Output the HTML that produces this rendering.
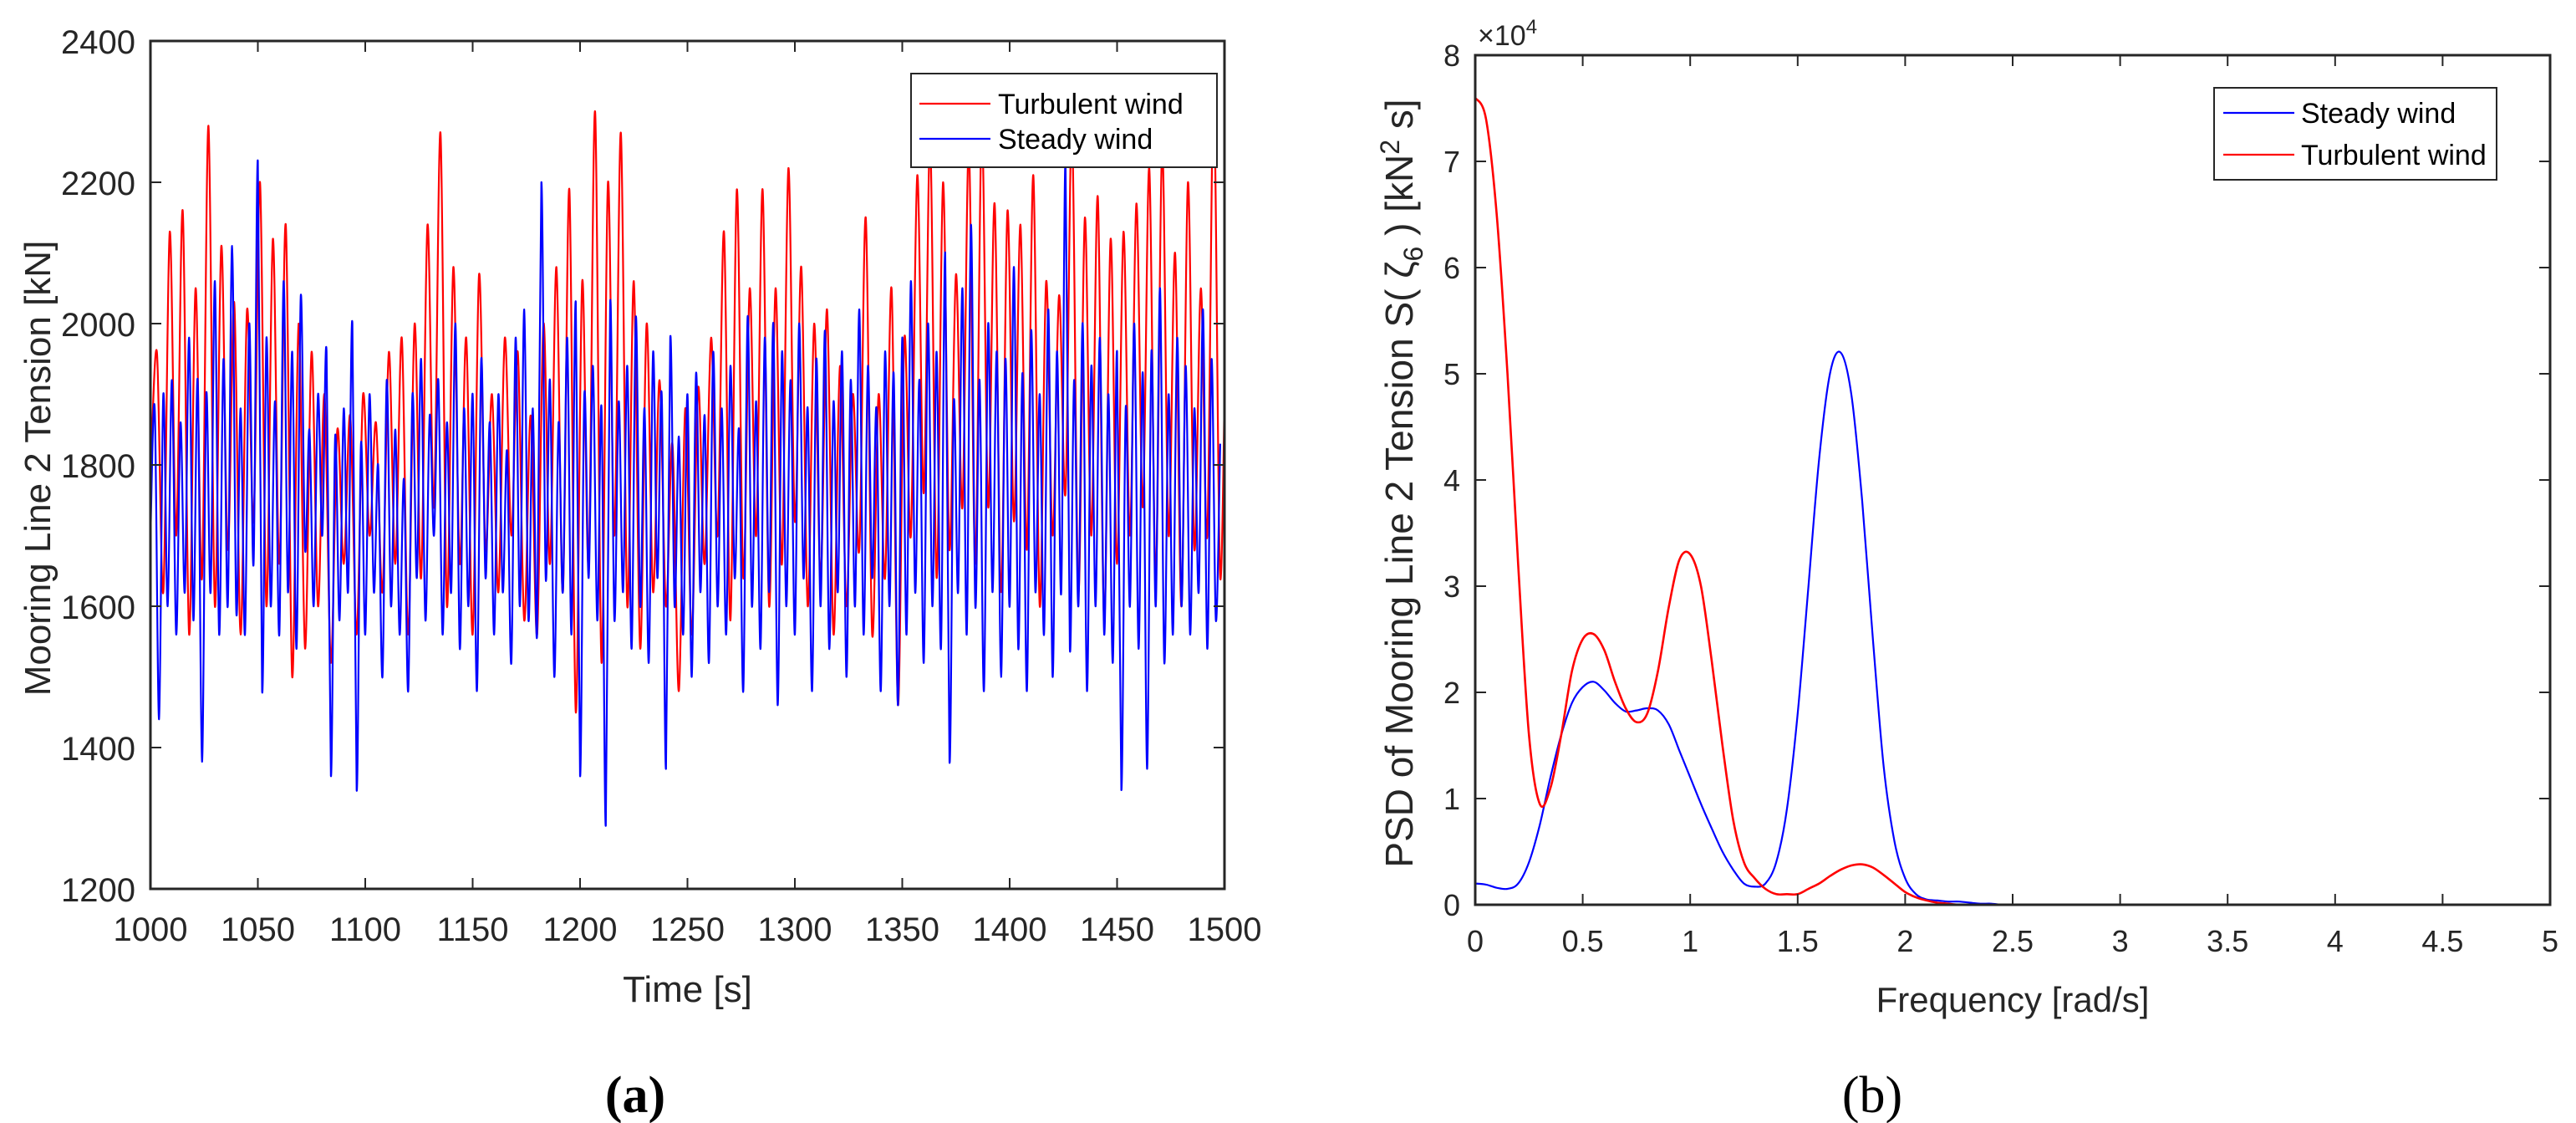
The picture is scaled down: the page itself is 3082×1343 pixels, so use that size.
<!DOCTYPE html>
<html><head><meta charset="utf-8"><style>
html,body{margin:0;padding:0;background:#fff;}
svg{display:block;font-family:"Liberation Sans",Arial,sans-serif;}
</style></head><body>
<svg id="fig" width="3082" height="1343" viewBox="0 0 3082 1343" xmlns="http://www.w3.org/2000/svg">
<rect width="3082" height="1343" fill="#fff"/>
<defs>
<clipPath id="clipA"><rect x="180" y="49" width="1285" height="1014"/></clipPath>
<clipPath id="clipB"><rect x="1765" y="66" width="1286" height="1016"/></clipPath>
</defs>
<g id="plotA"></g>
<g id="plotB"></g>
<text x="760" y="1330" text-anchor="middle" font-family="Liberation Serif,serif" font-size="62" font-weight="bold" fill="#000">(a)</text>
<text x="2240" y="1330" text-anchor="middle" font-family="Liberation Serif,serif" font-size="62" fill="#000">(b)</text>
</svg>
<script>
// ---- Panel (a) data ----
const tStart = 1000;
const steadyStep = 2;
const steadyTension = [
1700,1880,1440,1900,1600,1920,1560,1860,1620,1980,
1580,1920,1380,1900,1620,2060,1560,1950,1600,2110,
1590,1880,1560,2000,1660,2230,1480,1980,1600,1890,
1560,2060,1620,1960,1540,2040,1680,1850,1600,1900,
1700,1960,1360,1840,1580,1880,1620,2000,1340,1830,
1560,1900,1620,1800,1500,1920,1600,1850,1560,1780,
1480,1900,1640,1950,1580,1870,1700,1920,1560,1860,
1620,2000,1540,1880,1600,1900,1480,1950,1640,1860,
1560,1900,1620,1820,1520,1980,1600,2020,1580,1880,
1560,2200,1640,1920,1500,1860,1620,1980,1560,2030,
1360,1900,1640,1940,1580,1880,1290,2030,1580,1890,
1620,1940,1540,2010,1600,1880,1520,1960,1640,1900,
1370,1980,1600,1840,1560,1900,1500,1930,1620,1870,
1520,1960,1600,1880,1560,1940,1640,1850,1480,2010,
1600,1890,1540,1980,1620,2000,1460,1960,1600,1920,
1560,2000,1640,1880,1480,1950,1600,1990,1540,1890,
1620,1960,1500,1920,1600,2020,1560,1940,1640,1880,
1480,1960,1600,1930,1460,1980,1560,2060,1620,1920,
1520,2000,1600,1960,1540,2100,1380,1890,1620,2050,
1560,2140,1600,1920,1480,2000,1620,1960,1500,1950,
1600,2080,1540,1930,1480,1990,1620,1900,1560,2020,
1500,1960,1620,2230,1540,1920,1600,2000,1480,1940,
1600,1980,1560,1900,1520,1960,1340,1880,1600,2000,
1540,1930,1370,1960,1600,2050,1520,1900,1560,1980,
1600,1940,1560,1880,1620,2020,1540,1950,1580,1830];
const turbStep = 3;
const turbTension = [
1780,1960,1620,2130,1700,2160,1560,2050,1640,2280,1600,2110,1680,2030,1560,2020,
1720,2200,1600,2120,1660,2140,1500,2000,1540,1960,1600,1900,1520,1850,1660,1870,
1560,1900,1700,1860,1620,1960,1660,1980,1560,2000,1640,2140,1740,2270,1600,2080,
1660,1980,1560,2070,1680,1900,1620,1980,1700,1960,1580,1870,1560,2000,1660,2080,
1620,2190,1450,2060,1660,2300,1520,2200,1700,2270,1600,2060,1540,2000,1620,1920,
1600,1830,1480,1880,1560,1910,1660,1980,1700,2130,1580,2190,1640,2050,1700,2190,
1600,2050,1660,2220,1720,2080,1600,2000,1640,2020,1560,1940,1600,1900,1680,2150,
1560,1900,1640,2050,1460,1980,1700,2210,1760,2260,1640,2200,1680,2070,1740,2250,
1660,2280,1740,2170,1620,2160,1720,2140,1680,2210,1600,2060,1700,2040,1760,2280,
1620,2150,1700,2180,1580,2120,1660,2130,1700,2170,1740,2220,1640,2250,1700,2100,
1600,2200,1680,2050,1700,2330,1640,2110];
const timeTicks = [1000,1050,1100,1150,1200,1250,1300,1350,1400,1450,1500];
const tensionTicks = [1200,1400,1600,1800,2000,2200,2400];

// ---- Panel (b) data ----
const freqStep = 0.05;
const psdTurbulent = [7.6,7.4,6.5,5.0,3.2,1.6,0.95,1.1,1.6,2.2,2.5,2.55,2.4,2.1,1.85,1.72,1.8,2.2,2.8,3.25,3.3,3.0,2.3,1.5,0.8,0.4,0.25,0.15,0.1,0.1,0.1,0.15,0.2,0.27,0.33,0.37,0.38,0.35,0.28,0.2,0.12,0.07,0.04,0.02,0.01,0,0,0,0,0,0,0,0,0,0,0,0,0,0,0,0,0,0,0,0,0,0,0,0,0,0,0,0,0,0,0,0,0,0,0,0,0,0,0,0,0,0,0,0,0,0,0,0,0,0,0,0,0,0,0,0];
const psdSteady = [0.2,0.19,0.16,0.15,0.2,0.4,0.75,1.2,1.6,1.9,2.05,2.1,2.02,1.9,1.82,1.83,1.85,1.83,1.7,1.45,1.2,0.95,0.72,0.5,0.33,0.2,0.17,0.2,0.4,0.9,1.8,3.0,4.2,5.0,5.2,4.8,3.8,2.5,1.3,0.6,0.25,0.1,0.05,0.04,0.03,0.03,0.02,0.01,0.01,0,0,0,0,0,0,0,0,0,0,0,0,0,0,0,0,0,0,0,0,0,0,0,0,0,0,0,0,0,0,0,0,0,0,0,0,0,0,0,0,0,0,0,0,0,0,0,0,0,0,0,0];
const freqTicks = [0,0.5,1,1.5,2,2.5,3,3.5,4,4.5,5];
const freqTickLabels = ["0","0.5","1","1.5","2","2.5","3","3.5","4","4.5","5"];
const psdTicks = [0,1,2,3,4,5,6,7,8];

const NS = "http://www.w3.org/2000/svg";
function mk(tag, attrs, parent){const e=document.createElementNS(NS,tag);for(const k in attrs)e.setAttribute(k,attrs[k]);parent.appendChild(e);return e;}
function smoothPath(pts){
  let d="M"+pts[0][0].toFixed(1)+","+pts[0][1].toFixed(1);
  for(let i=0;i<pts.length-1;i++){
    const p0=pts[i-1]||pts[i],p1=pts[i],p2=pts[i+1],p3=pts[i+2]||p2;
    const c1x=p1[0]+(p2[0]-p0[0])/6,c1y=p1[1]+(p2[1]-p0[1])/6;
    const c2x=p2[0]-(p3[0]-p1[0])/6,c2y=p2[1]-(p3[1]-p1[1])/6;
    d+="C"+c1x.toFixed(1)+","+c1y.toFixed(1)+" "+c2x.toFixed(1)+","+c2y.toFixed(1)+" "+p2[0].toFixed(1)+","+p2[1].toFixed(1);
  }
  return d;
}

// ===== Panel A =====
(function(){
  const g=document.getElementById('plotA');
  const L=180,R=1465,T=49,B=1063;
  const xA=t=>L+(t-1000)/500*(R-L);
  const yA=v=>B-(v-1200)/1200*(B-T);
  const ax='#262626';
  const sg=mk('g',{'clip-path':'url(#clipA)'},g);
  const redPts=turbTension.map((v,i)=>[xA(tStart+i*turbStep),yA(v)]);
  const red=mk('path',{d:smoothPath(redPts),fill:'none',stroke:'#ff0000','stroke-width':2.2},sg);
  
  
  const bluePts=steadyTension.map((v,i)=>[xA(tStart+i*steadyStep),yA(v)]);
  const blue=mk('path',{d:smoothPath(bluePts),fill:'none',stroke:'#0000ff','stroke-width':2.2},sg);
  
  
  const box=mk('rect',{x:L,y:T,width:R-L,height:B-T,fill:'none',stroke:ax,'stroke-width':3},g);
  
  
  timeTicks.forEach(t=>{
    const x=xA(t);
    mk('line',{x1:x,y1:B,x2:x,y2:B-13,stroke:ax,'stroke-width':2},g);
    mk('line',{x1:x,y1:T,x2:x,y2:T+13,stroke:ax,'stroke-width':2},g);
    const tx=mk('text',{x:x,y:B+62,'text-anchor':'middle','font-size':40,fill:ax},g);
    tx.textContent=t;
    
    
  });
  tensionTicks.forEach(v=>{
    const y=yA(v);
    mk('line',{x1:L,y1:y,x2:L+13,y2:y,stroke:ax,'stroke-width':2},g);
    mk('line',{x1:R,y1:y,x2:R-13,y2:y,stroke:ax,'stroke-width':2},g);
    const tx=mk('text',{x:L-18,y:y+15,'text-anchor':'end','font-size':40,fill:ax},g);
    tx.textContent=v;
    
    
  });
  const xt=mk('text',{x:(L+R)/2,y:1198,'text-anchor':'middle','font-size':44,fill:ax},g);
  xt.textContent='Time [s]';
  
  
  const yt=mk('text',{x:0,y:0,'text-anchor':'middle','font-size':44,fill:ax,transform:'translate(60,560) rotate(-90)'},g);
  yt.textContent='Mooring Line 2 Tension [kN]';
  
  
  const lg=mk('g',{},g);
  
  
  mk('rect',{x:1090,y:88,width:366,height:112,fill:'#fff',stroke:ax,'stroke-width':2},lg);
  [['Turbulent wind','#ff0000',124],['Steady wind','#0000ff',166]].forEach(e=>{
    mk('line',{x1:1100,y1:e[2],x2:1185,y2:e[2],stroke:e[1],'stroke-width':2.2},lg);
    const tx=mk('text',{x:1194,y:e[2]+12,'font-size':34,fill:'#000'},lg);
    tx.textContent=e[0];
    
    
  });
})();

// ===== Panel B =====
(function(){
  const g=document.getElementById('plotB');
  const L=1765,R=3051,T=66,B=1082;
  const xB=f=>L+f/5*(R-L);
  const yB=v=>B-v/8*(B-T);
  const ax='#262626';
  const sg=mk('g',{'clip-path':'url(#clipB)'},g);
  const bluePts=psdSteady.map((v,i)=>[xB(i*freqStep),yB(v)]);
  const blue=mk('path',{d:smoothPath(bluePts),fill:'none',stroke:'#0000ff','stroke-width':2.2},sg);
  
  
  const redPts=psdTurbulent.map((v,i)=>[xB(i*freqStep),yB(v)]);
  const red=mk('path',{d:smoothPath(redPts),fill:'none',stroke:'#ff0000','stroke-width':2.6},sg);
  
  
  const box=mk('rect',{x:L,y:T,width:R-L,height:B-T,fill:'none',stroke:ax,'stroke-width':3},g);
  
  
  freqTicks.forEach((f,i)=>{
    const x=xB(f);
    mk('line',{x1:x,y1:B,x2:x,y2:B-13,stroke:ax,'stroke-width':2},g);
    mk('line',{x1:x,y1:T,x2:x,y2:T+13,stroke:ax,'stroke-width':2},g);
    const tx=mk('text',{x:x,y:B+56,'text-anchor':'middle','font-size':36,fill:ax},g);
    tx.textContent=freqTickLabels[i];
    
    
  });
  psdTicks.forEach(v=>{
    const y=yB(v);
    mk('line',{x1:L,y1:y,x2:L+13,y2:y,stroke:ax,'stroke-width':2},g);
    mk('line',{x1:R,y1:y,x2:R-13,y2:y,stroke:ax,'stroke-width':2},g);
    const tx=mk('text',{x:L-18,y:y+13,'text-anchor':'end','font-size':36,fill:ax},g);
    tx.textContent=v;
    
    
  });
  const ex=mk('text',{x:1768,y:54,'font-size':34,fill:ax},g);
  ex.innerHTML='×10<tspan dy="-14" font-size="24">4</tspan>';
  
  
  const xt=mk('text',{x:(L+R)/2,y:1210,'text-anchor':'middle','font-size':42,fill:ax},g);
  xt.textContent='Frequency [rad/s]';
  
  
  const yt=mk('text',{x:0,y:0,'text-anchor':'middle','font-size':46,fill:ax,transform:'translate(1690,578) rotate(-90)'},g);
  yt.innerHTML='PSD of Mooring Line 2 Tension S( ζ<tspan dy="12" font-size="32">6</tspan><tspan dy="-12"> ) [kN</tspan><tspan dy="-16" font-size="32">2</tspan><tspan dy="16"> s]</tspan>';
  
  
  const lg=mk('g',{},g);
  
  
  mk('rect',{x:2649,y:105,width:338,height:110,fill:'#fff',stroke:ax,'stroke-width':2},lg);
  [['Steady wind','#0000ff',135],['Turbulent wind','#ff0000',185]].forEach(e=>{
    mk('line',{x1:2660,y1:e[2],x2:2745,y2:e[2],stroke:e[1],'stroke-width':2.2},lg);
    const tx=mk('text',{x:2753,y:e[2]+12,'font-size':34,fill:'#000'},lg);
    tx.textContent=e[0];
    
    
  });
})();
</script>
</body></html>
